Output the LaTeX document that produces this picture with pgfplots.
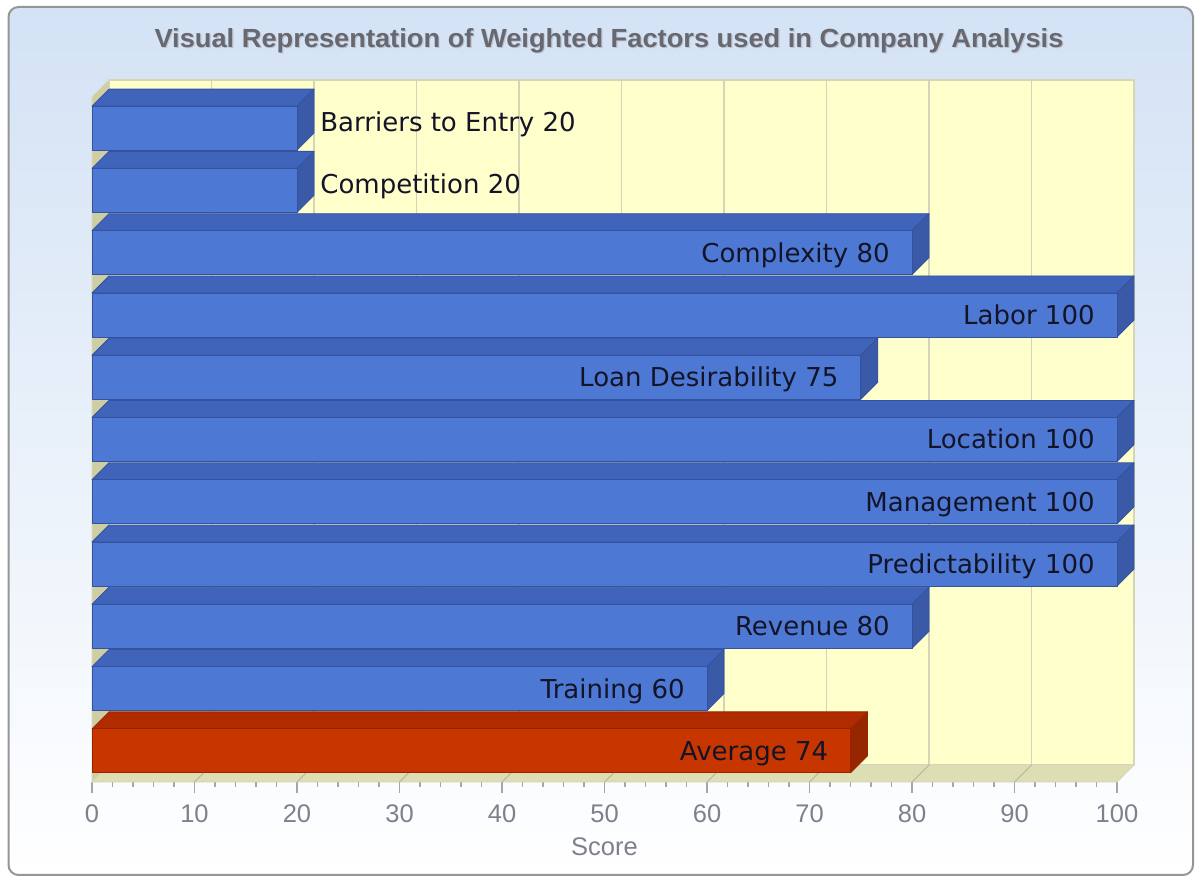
\documentclass[border=0pt]{standalone}
\usepackage{pgfplots}
\pgfplotsset{compat=1.18}
\usepackage{pgfplotstable}
\usepackage{fontspec}
\setmainfont{DejaVu Sans}
\newfontfamily\arialfont{Liberation Sans}
\newfontfamily\titlefont[FakeStretch=1.04]{Liberation Sans Bold}
\definecolor{bgtop}{RGB}{211,226,245}
\definecolor{framegray}{RGB}{150,150,150}
\definecolor{titlegray}{RGB}{104,104,112}
\definecolor{titleshadow}{RGB}{190,196,208}
\definecolor{tickgray}{RGB}{128,128,140}
\definecolor{ticklinegray}{RGB}{165,165,165}
\definecolor{wallyellow}{RGB}{255,255,204}
\definecolor{wallline}{RGB}{214,214,180}
\definecolor{gridcol}{RGB}{212,212,186}
\definecolor{floorcol}{RGB}{222,222,180}
\definecolor{leftwall}{RGB}{206,206,164}
\definecolor{bfront}{RGB}{77,121,212}
\definecolor{btop}{RGB}{64,100,185}
\definecolor{bside}{RGB}{58,90,168}
\definecolor{bedge}{RGB}{52,82,160}
\definecolor{rfront}{RGB}{200,54,0}
\definecolor{rtop}{RGB}{176,44,0}
\definecolor{rside}{RGB}{150,38,0}
\definecolor{redge}{RGB}{150,36,0}
\definecolor{labcol}{RGB}{20,20,40}

% 3D bar drawn at the bar end (front face, vertical centre); basic-layer pgf only
\newcommand\threedbar[4]{%
  \pgfkeys{/pgf/fpu=true,/pgf/fpu/output format=fixed}%
  \pgfmathparse{\barv*5.125}\edef\barlen{\pgfmathresult pt}%
  \pgfmathparse{\barv*5.125-8.5}\edef\barlenb{\pgfmathresult pt}%
  \pgfkeys{/pgf/fpu=false}%
  \pgfsetlinewidth{0.4pt}\pgfsetroundjoin
  \pgfsetstrokecolor{#4}%
  % top face
  \pgfsetfillcolor{#2}%
  \pgfpathmoveto{\pgfpoint{-\barlen}{11pt}}%
  \pgfpathlineto{\pgfpoint{0pt}{11pt}}%
  \pgfpathlineto{\pgfpoint{8.5pt}{19.5pt}}%
  \pgfpathlineto{\pgfpoint{-\barlenb}{19.5pt}}%
  \pgfpathclose
  \pgfusepath{fill,stroke}%
  % side face
  \pgfsetfillcolor{#3}%
  \pgfpathmoveto{\pgfpoint{0pt}{-11pt}}%
  \pgfpathlineto{\pgfpoint{8.5pt}{-2.5pt}}%
  \pgfpathlineto{\pgfpoint{8.5pt}{19.5pt}}%
  \pgfpathlineto{\pgfpoint{0pt}{11pt}}%
  \pgfpathclose
  \pgfusepath{fill,stroke}%
  % front face
  \pgfsetfillcolor{#1}%
  \pgfpathrectanglecorners{\pgfpoint{-\barlen}{-11pt}}{\pgfpoint{0pt}{11pt}}%
  \pgfusepath{fill,stroke}%
}
\pgfdeclareplotmark{bluebar}{\threedbar{bfront}{btop}{bside}{bedge}}
\pgfdeclareplotmark{redbar}{\threedbar{rfront}{rtop}{rside}{redge}}

\pgfplotstableread[col sep=comma]{
y,v,label
10.5,20,Barriers to Entry 20
9.5,20,Competition 20
}\outside
\pgfplotstableread[col sep=comma]{
y,v,label
8.5,80,Complexity 80
7.5,100,Labor 100
6.5,75,Loan Desirability 75
5.5,100,Location 100
4.5,100,Management 100
3.5,100,Predictability 100
2.5,80,Revenue 80
1.5,60,Training 60
}\inside
\pgfplotstableread[col sep=comma]{
y,v,label
0.5,74,Average 74
}\average

\begin{document}
\begin{tikzpicture}
\useasboundingbox (0,0) rectangle (597.5pt,438.5pt);
\shade[top color=bgtop, bottom color=white, draw=framegray, line width=1pt, rounded corners=5pt]
  (4.25pt,1pt) rectangle (596.5pt,435pt);
\node[font=\titlefont\fontsize{13.1}{15}\selectfont, text=titleshadow, anchor=base] at (305.1pt,414.0pt)
  {Visual Representation of Weighted Factors used in Company Analysis};
\node[font=\titlefont\fontsize{13.1}{15}\selectfont, text=titlegray, anchor=base] at (304.5pt,414.6pt)
  {Visual Representation of Weighted Factors used in Company Analysis};
\begin{axis}[
  at={(46pt,47.5pt)}, anchor=south west,
  scale only axis, width=512.5pt, height=342.5pt,
  xmin=0, xmax=100, ymin=0, ymax=11,
  clip=false,
  axis line style={draw=none},
  ytick=\empty,
  xtick={0,10,...,100},
  minor x tick num=4,
  xtick pos=left,
  tick align=outside,
  major tick length=5.5pt, minor tick length=2.5pt,
  every tick/.style={ticklinegray, line width=0.6pt},
  /pgf/number format/assume math mode=true,
  xticklabel style={font=\arialfont\fontsize{12.75}{14}\selectfont, text=tickgray, anchor=center, yshift=-10.5pt},
  xlabel={Score},
  xlabel style={at={(axis description cs:0.5,0)}, anchor=center, yshift=-32.25pt, font=\arialfont\fontsize{12.75}{14}\selectfont, text=tickgray},
]
% walls and floor
\fill[wallyellow, draw=wallline, line width=0.8pt] ([shift={(8.5pt,8.5pt)}]axis cs:0,0) rectangle ([shift={(8.5pt,8.5pt)}]axis cs:100,11);
\pgfplotsinvokeforeach{10,20,...,90}{
  \draw[gridcol, line width=0.6pt] ([shift={(8.5pt,8.5pt)}]axis cs:#1,0) -- ([shift={(8.5pt,8.5pt)}]axis cs:#1,11);
}
\fill[leftwall, draw=wallline, line width=0.5pt] (axis cs:0,0) -- ([shift={(8.5pt,8.5pt)}]axis cs:0,0) -- ([shift={(8.5pt,8.5pt)}]axis cs:0,11) -- (axis cs:0,11) -- cycle;
\fill[floorcol, draw=wallline, line width=0.5pt] (axis cs:0,0) -- (axis cs:100,0) -- ([shift={(8.5pt,8.5pt)}]axis cs:100,0) -- ([shift={(8.5pt,8.5pt)}]axis cs:0,0) -- cycle;
\pgfplotsinvokeforeach{10,20,...,90}{
  \draw[gridcol!85!black, line width=0.5pt] (axis cs:#1,0) -- ([shift={(8.5pt,8.5pt)}]axis cs:#1,0);
}
% bars
\addplot[only marks, mark=bluebar,
  visualization depends on={rawx \as \barv},
  point meta=explicit symbolic,
  nodes near coords,
  every node near coord/.style={anchor=base west, inner sep=0pt, xshift=11.5pt, yshift=-1.6pt, font=\fontsize{13}{15}\selectfont, text=labcol},
] table[x=v, y=y, meta=label] {\outside};
\addplot[only marks, mark=bluebar,
  visualization depends on={rawx \as \barv},
  point meta=explicit symbolic,
  nodes near coords,
  every node near coord/.style={anchor=base east, inner sep=0pt, xshift=-11pt, yshift=-4.74pt, font=\fontsize{13}{15}\selectfont, text=labcol},
] table[x=v, y=y, meta=label] {\inside};
\addplot[only marks, mark=redbar,
  visualization depends on={rawx \as \barv},
  point meta=explicit symbolic,
  nodes near coords,
  every node near coord/.style={anchor=base east, inner sep=0pt, xshift=-11pt, yshift=-4.74pt, font=\fontsize{13}{15}\selectfont, text=labcol},
] table[x=v, y=y, meta=label] {\average};
\end{axis}
\end{tikzpicture}
\end{document}
